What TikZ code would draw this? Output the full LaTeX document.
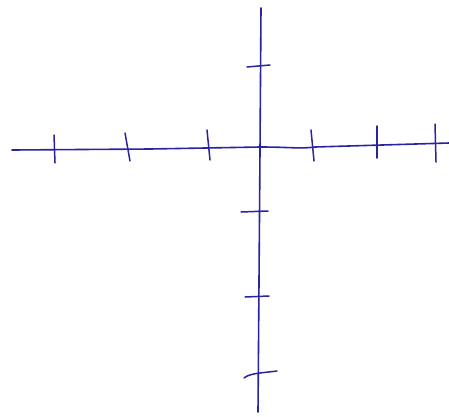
\documentclass[tikz,border=0pt]{standalone}
\definecolor{pen}{RGB}{40,35,160}
\begin{document}
\begin{tikzpicture}[x=1pt,y=-1pt,
  axis/.style={draw=pen,line width=1.6pt,line cap=round},
  tick/.style={draw=pen,line width=1.5pt,line cap=round}]
\useasboundingbox[fill=white] (0,0) rectangle (449,416);
% horizontal axis
\coordinate (hl) at (12,150);
\coordinate (hr) at (449,143);
\draw[axis] (hl) -- (150,149) -- (260,147) .. controls (290,147) and (300,149) .. (315,147) -- (hr);
% vertical axis
\coordinate (vt) at (261,8);
\coordinate (vb) at (258,412);
\draw[axis] (vt) -- (260,150) -- (vb);
% ticks on horizontal axis
\draw[tick] (54,135) -- (55,163);
\draw[tick] (125,133) -- (130,161);
\draw[tick] (207,130) -- (210,160);
\draw[tick] (311,130) -- (314,161);
\draw[tick] (377,126) -- (377,158);
\draw[tick] (435,124) -- (436,162);
% ticks on vertical axis
\draw[tick] (247,67) -- (270,65);
\draw[tick] (241,212) -- (268,211);
\draw[tick] (245,297) -- (269,296);
\draw[tick] (244,378) .. controls (250,373) and (262,373) .. (277,371);
\end{tikzpicture}
\end{document}
